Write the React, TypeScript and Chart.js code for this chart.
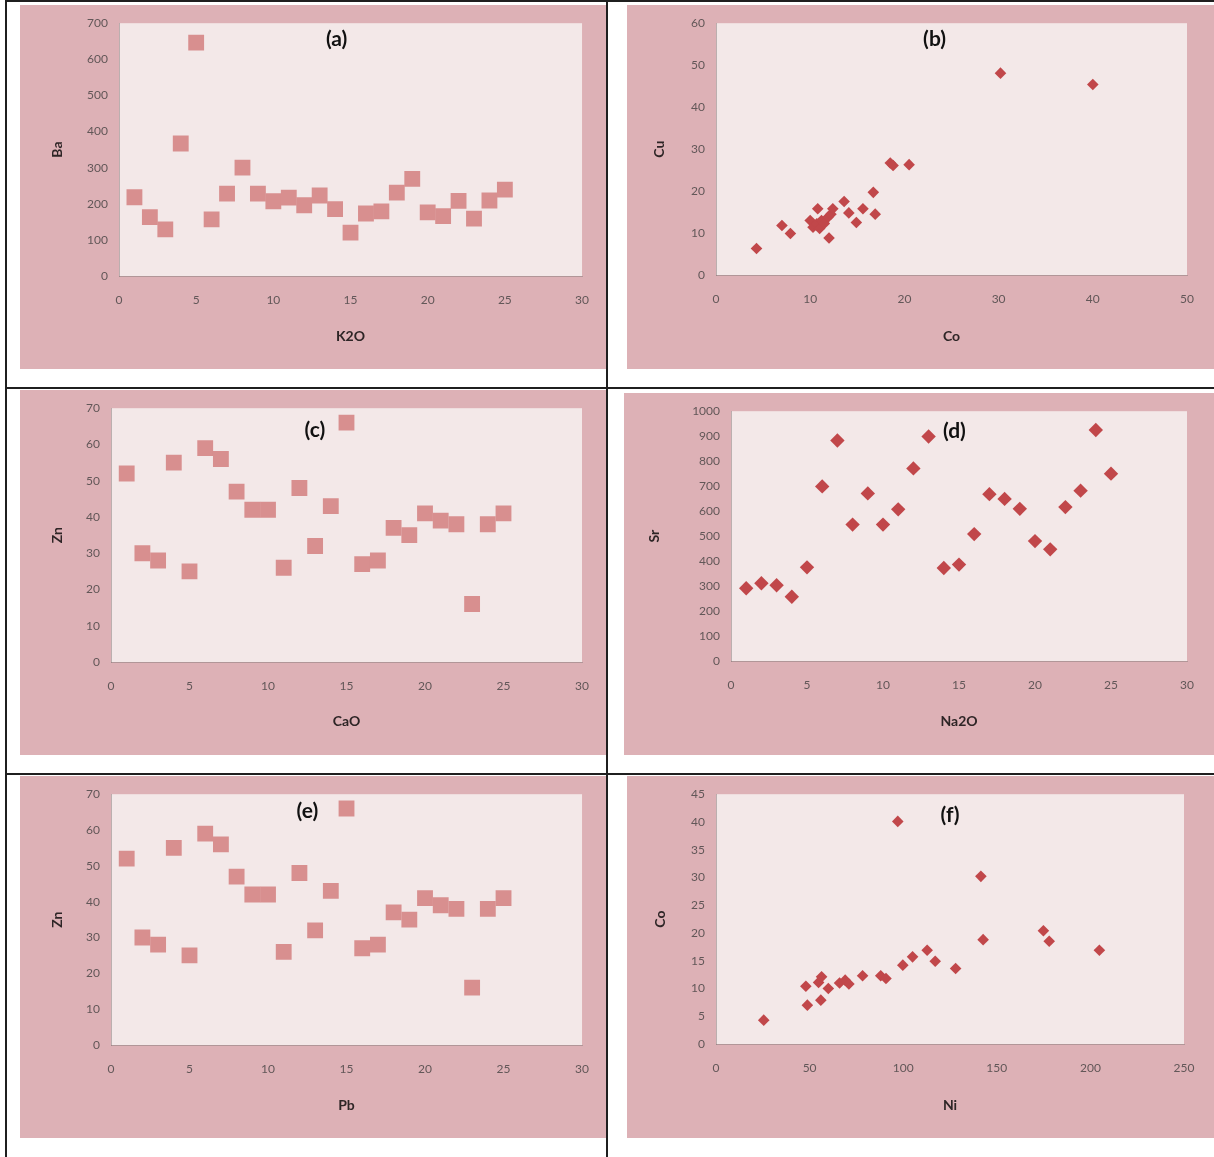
import React, { useEffect, useRef } from "react";
import { Chart, registerables } from "chart.js";

Chart.register(...registerables);

// ---------- data ----------
const k2o = [1, 2, 3, 4, 5, 6, 7, 8, 9, 10, 11, 12, 13, 14, 15, 16, 17, 18, 19, 20, 21, 22, 23, 24, 25];
const ba = [218, 163, 129, 367, 646, 157, 228, 300, 228, 207, 217, 196, 223, 185, 120, 173, 179, 231, 269, 176, 166, 208, 159, 209, 239];

const coB = [4.3, 7.0, 7.9, 10.0, 10.3, 10.7, 10.8, 11.0, 11.2, 11.5, 11.9, 12.0, 12.2, 12.4, 13.6, 14.1, 14.9, 15.6, 16.7, 16.9, 18.5, 18.8, 20.5, 30.2, 40.0];
const cuB = [6.3, 11.8, 9.9, 13.0, 11.4, 12.2, 15.8, 11.1, 13.0, 12.3, 13.8, 8.8, 14.5, 15.8, 17.5, 14.8, 12.5, 15.8, 19.7, 14.5, 26.7, 26.1, 26.3, 48.1, 45.4];

const cao = [1, 2, 3, 4, 5, 6, 7, 8, 9, 10, 11, 12, 13, 14, 15, 16, 17, 18, 19, 20, 21, 22, 23, 24, 25];
const znC = [52, 30, 28, 55, 25, 59, 56, 47, 42, 42, 26, 48, 32, 43, 66, 27, 28, 37, 35, 41, 39, 38, 16, 38, 41];

const na2o = [1, 2, 3, 4, 5, 6, 7, 8, 9, 10, 11, 12, 13, 14, 15, 16, 17, 18, 19, 20, 21, 22, 23, 24, 25];
const sr = [291, 311, 303, 257, 375, 699, 883, 546, 671, 546, 607, 771, 899, 372, 386, 508, 668, 649, 609, 480, 447, 616, 682, 925, 750];

const pb = [1, 2, 3, 4, 5, 6, 7, 8, 9, 10, 11, 12, 13, 14, 15, 16, 17, 18, 19, 20, 21, 22, 23, 24, 25];
const znE = [52, 30, 28, 55, 25, 59, 56, 47, 42, 42, 26, 48, 32, 43, 66, 27, 28, 37, 35, 41, 39, 38, 16, 38, 41];

const niF = [25.5, 48.0, 48.8, 54.8, 56.4, 56.0, 60.0, 66.0, 69.0, 71.0, 78.3, 88.0, 90.8, 97.1, 99.8, 105.0, 112.8, 117.1, 128.0, 141.5, 142.7, 174.9, 178.0, 204.8];
const coF = [4.3, 10.4, 7.0, 11.1, 12.1, 7.9, 10.0, 11.0, 11.5, 10.8, 12.3, 12.3, 11.8, 40.1, 14.2, 15.7, 16.9, 14.9, 13.6, 30.2, 18.8, 20.4, 18.5, 16.9];

// ---------- styles ----------
const FONT = "Lato, 'Open Sans', 'DejaVu Sans', sans-serif";
const OUTER_BG = "#ddb1b6";
const INNER_BG = "#f3e8e8";
const SQUARE = "#d88f8f";
const DIAMOND = "#c1474a";
const TICK_COLOR = "#625758";
const TITLE_COLOR = "#2e2526";
const AXIS_COLOR = "rgba(140,128,128,0.55)";

type PanelCfg = {
  label: string;
  xs: number[];
  ys: number[];
  xTitle: string;
  yTitle: string;
  xMax: number;
  xStep: number;
  yMax: number;
  yStep: number;
  marker: "rect" | "rectRot";
  radius: number;
  color: string;
  left: number;
  top: number;
  width: number;
  height: number;
  padTop: number;
  padRight: number;
  yAxisWidth: number;
  xAxisHeight: number;
  yTitlePad: number;
  xTitlePad: number;
  labelFx: number;
  labelFy: number;
};

const panels: PanelCfg[] = [
  {
    label: "(a)", xs: k2o, ys: ba, xTitle: "K2O", yTitle: "Ba",
    xMax: 30, xStep: 5, yMax: 700, yStep: 100, marker: "rect", radius: 11.2, color: SQUARE,
    left: 20, top: 5, width: 586, height: 364, padTop: 17, padRight: 23,
    yAxisWidth: 99, xAxisHeight: 93, yTitlePad: 30, xTitlePad: 24, labelFx: 0.47, labelFy: 0.064,
  },
  {
    label: "(b)", xs: coB, ys: cuB, xTitle: "Co", yTitle: "Cu",
    xMax: 50, xStep: 10, yMax: 60, yStep: 10, marker: "rectRot", radius: 5.8, color: DIAMOND,
    left: 627, top: 5, width: 587, height: 364, padTop: 17, padRight: 27,
    yAxisWidth: 89, xAxisHeight: 94, yTitlePad: 25, xTitlePad: 24, labelFx: 0.464, labelFy: 0.064,
  },
  {
    label: "(c)", xs: cao, ys: znC, xTitle: "CaO", yTitle: "Zn",
    xMax: 30, xStep: 5, yMax: 70, yStep: 10, marker: "rect", radius: 11.2, color: SQUARE,
    left: 20, top: 390, width: 586, height: 365, padTop: 18, padRight: 24,
    yAxisWidth: 91, xAxisHeight: 93, yTitlePad: 30, xTitlePad: 25, labelFx: 0.433, labelFy: 0.087,
  },
  {
    label: "(d)", xs: na2o, ys: sr, xTitle: "Na2O", yTitle: "Sr",
    xMax: 30, xStep: 5, yMax: 1000, yStep: 100, marker: "rectRot", radius: 7.2, color: DIAMOND,
    left: 624, top: 393, width: 590, height: 362, padTop: 15, padRight: 27,
    yAxisWidth: 107, xAxisHeight: 94, yTitlePad: 23, xTitlePad: 25, labelFx: 0.49, labelFy: 0.079,
  },
  {
    label: "(e)", xs: pb, ys: znE, xTitle: "Pb", yTitle: "Zn",
    xMax: 30, xStep: 5, yMax: 70, yStep: 10, marker: "rect", radius: 11.2, color: SQUARE,
    left: 20, top: 776, width: 586, height: 362, padTop: 15, padRight: 23,
    yAxisWidth: 91, xAxisHeight: 93, yTitlePad: 30, xTitlePad: 24, labelFx: 0.417, labelFy: 0.067,
  },
  {
    label: "(f)", xs: niF, ys: coF, xTitle: "Ni", yTitle: "Co",
    xMax: 250, xStep: 50, yMax: 45, yStep: 5, marker: "rectRot", radius: 5.8, color: DIAMOND,
    left: 627, top: 776, width: 587, height: 362, padTop: 15, padRight: 30,
    yAxisWidth: 89, xAxisHeight: 94, yTitlePad: 26, xTitlePad: 24, labelFx: 0.5, labelFy: 0.083,
  },
];

const bgPlugin = {
  id: "panelBg",
  beforeDraw(chart: any) {
    const { ctx, chartArea } = chart;
    ctx.save();
    ctx.fillStyle = OUTER_BG;
    ctx.fillRect(0, 0, chart.width, chart.height);
    ctx.fillStyle = INNER_BG;
    ctx.fillRect(chartArea.left, chartArea.top, chartArea.right - chartArea.left, chartArea.bottom - chartArea.top);
    ctx.restore();
  },
};

const plainTick = (v: any) => String(v);

function Panel({ cfg }: { cfg: PanelCfg }) {
  const ref = useRef<HTMLCanvasElement | null>(null);
  useEffect(() => {
    if (!ref.current) return;
    const labelPlugin = {
      id: "panelLabel",
      afterDraw(chart: any) {
        const { ctx, chartArea } = chart;
        ctx.save();
        ctx.font = `bold 21px ${FONT}`;
        ctx.fillStyle = "#111";
        ctx.textAlign = "center";
        ctx.textBaseline = "middle";
        const x = chartArea.left + cfg.labelFx * (chartArea.right - chartArea.left);
        const y = chartArea.top + cfg.labelFy * (chartArea.bottom - chartArea.top);
        ctx.fillText(cfg.label, x, y);
        ctx.restore();
      },
    };
    const chart = new Chart(ref.current, {
      type: "scatter",
      data: {
        datasets: [
          {
            data: cfg.xs.map((x, i) => ({ x, y: cfg.ys[i] })),
            pointStyle: cfg.marker,
            pointRadius: cfg.radius,
            pointBackgroundColor: cfg.color,
            pointBorderColor: cfg.color,
            pointBorderWidth: 0,
            showLine: false,
          },
        ],
      },
      options: {
        animation: false,
        responsive: false,
        maintainAspectRatio: false,
        events: [],
        layout: { padding: { top: cfg.padTop, right: cfg.padRight, left: 0, bottom: 0 } },
        plugins: {
          legend: { display: false },
          tooltip: { enabled: false },
          title: { display: false },
        },
        scales: {
          x: {
            type: "linear",
            position: "bottom",
            min: 0,
            max: cfg.xMax,
            ticks: {
              stepSize: cfg.xStep,
              padding: 17,
              color: TICK_COLOR,
              font: { family: FONT, size: 12 },
              maxRotation: 0,
              autoSkip: false,
              callback: plainTick,
            },
            grid: { display: false, drawTicks: false },
            border: { display: true, color: AXIS_COLOR, width: 1 },
            title: {
              display: true,
              text: cfg.xTitle,
              color: TITLE_COLOR,
              font: { family: FONT, size: 14, weight: "bold" },
              padding: { top: 0, bottom: cfg.xTitlePad },
            },
            afterFit: (s: any) => {
              s.height = cfg.xAxisHeight;
            },
          },
          y: {
            type: "linear",
            position: "left",
            min: 0,
            max: cfg.yMax,
            ticks: {
              stepSize: cfg.yStep,
              padding: 11,
              color: TICK_COLOR,
              font: { family: FONT, size: 12 },
              autoSkip: false,
              callback: plainTick,
            },
            grid: { display: false, drawTicks: false },
            border: { display: true, color: AXIS_COLOR, width: 1 },
            title: {
              display: true,
              text: cfg.yTitle,
              color: TITLE_COLOR,
              font: { family: FONT, size: 14, weight: "bold" },
              padding: { top: cfg.yTitlePad - 1, bottom: 0 },
            },
            afterFit: (s: any) => {
              s.width = cfg.yAxisWidth;
            },
          },
        },
      },
      plugins: [bgPlugin, labelPlugin],
    } as any);
    return () => chart.destroy();
  }, [cfg]);
  return (
    <canvas
      ref={ref}
      width={cfg.width}
      height={cfg.height}
      style={{ position: "absolute", left: cfg.left, top: cfg.top, width: cfg.width, height: cfg.height }}
    />
  );
}

const LINE = "#1f1f1f";

export default function App() {
  return (
    <div
      style={{
        position: "absolute",
        left: 0,
        top: 0,
        width: 1214,
        height: 1157,
        background: "#ffffff",
        overflow: "hidden",
      }}
    >
      {panels.map((p) => (
        <Panel key={p.label} cfg={p} />
      ))}
      <div style={{ position: "absolute", left: 5, top: 0, width: 1209, height: 2, background: LINE }} />
      <div style={{ position: "absolute", left: 5, top: 0, width: 2, height: 1157, background: LINE }} />
      <div style={{ position: "absolute", left: 606, top: 0, width: 2, height: 1157, background: LINE }} />
      <div style={{ position: "absolute", left: 5, top: 387, width: 1209, height: 2, background: LINE }} />
      <div style={{ position: "absolute", left: 5, top: 773, width: 1209, height: 2, background: LINE }} />
    </div>
  );
}
